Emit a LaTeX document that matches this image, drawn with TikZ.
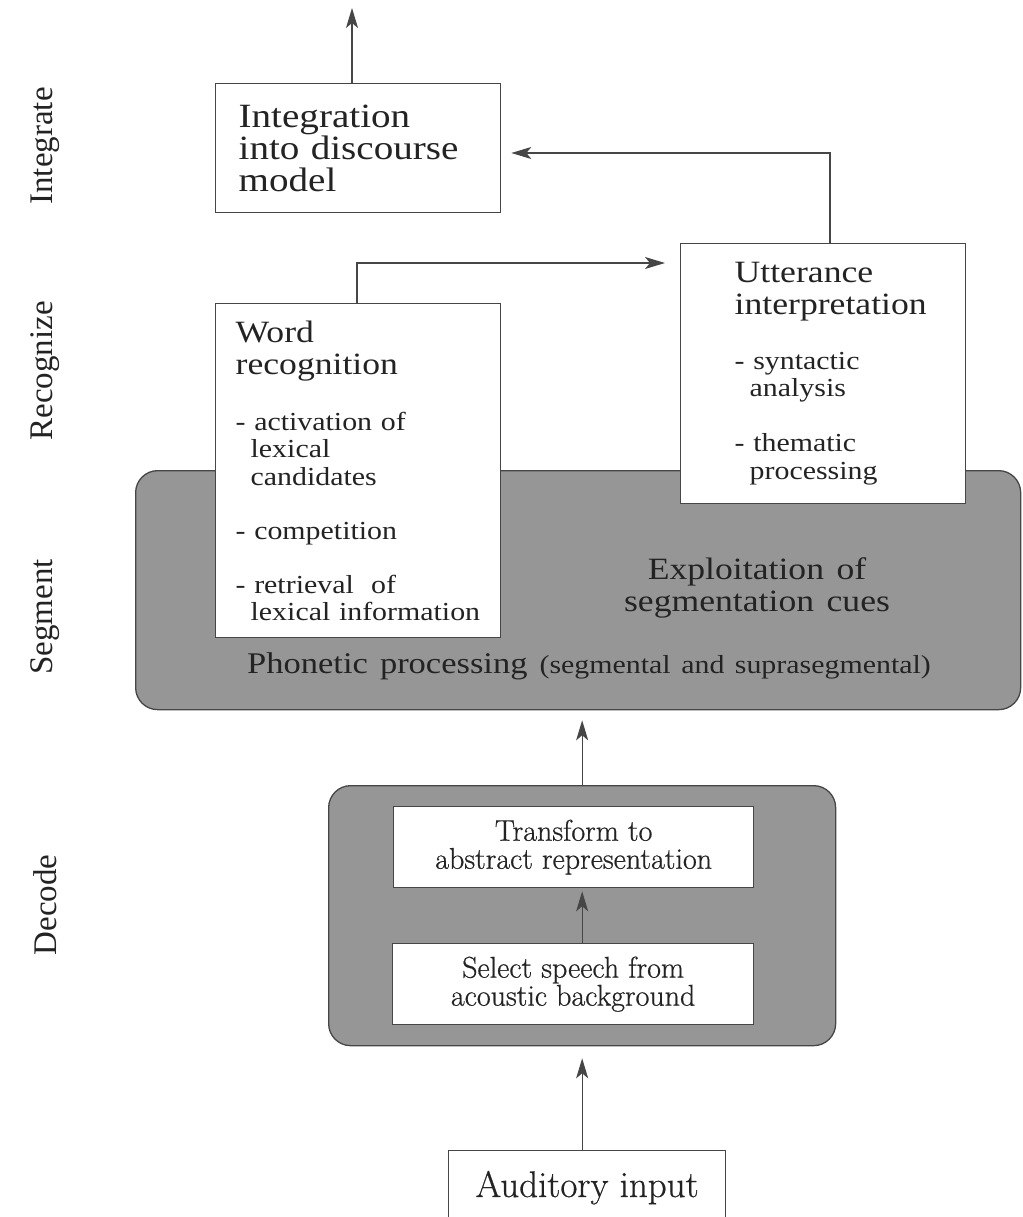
\documentclass[tikz,border=0pt]{standalone}
\usepackage{fontspec}
\setmainfont{Liberation Serif}[FakeStretch=1.15,WordSpace=1.4]
\newfontfamily\sidefont{Liberation Serif}
\newfontfamily\decfont{Latin Modern Roman}[FakeBold=0.6]
\usetikzlibrary{arrows.meta,calc}
\definecolor{lg}{RGB}{70,70,70}
\definecolor{ink}{RGB}{35,35,35}
\definecolor{segray}{RGB}{150,150,150}
\newcommand{\hd}{\fontsize{31}{32}\selectfont}
\newcommand{\lst}{\fontsize{26}{27.5}\selectfont}
\newcommand{\ind}{\hspace*{15pt}}
\tikzset{
    box/.style =    {rectangle,
                    fill=white,
                    draw=lg,
                    text=ink,
                    line width=1.3pt,
                    anchor=north west,
                    align=left,
                    font=\lst},
    panel/.style =  {rectangle,
                    rounded corners=22pt,
                    fill=segray,
                    draw=lg,
                    line width=1.3pt,
                    anchor=north west},
    decbox/.style = {rectangle,
                    fill=white,
                    draw=lg,
                    text=ink,
                    line width=1.3pt,
                    anchor=north west,
                    align=center,
                    font=\decfont\fontsize{30}{28}\selectfont},
    side/.style =   {rotate=90,
                    text=ink,
                    font=\sidefont\fontsize{33}{33}\selectfont},
    link/.style =   {line width=1.3pt,
                    draw=lg,
                    ->},
    >={Stealth[length=20pt,width=12pt,inset=5pt]}}
\begin{document}
\begin{tikzpicture}[x=1pt,y=-1pt]
    \clip (0,0) rectangle (1022,1217);
    % side labels
    \node[side] (lbint) at (45,146) {Integrate};
    \node[side] (lbrec) at (45,371) {Recognize};
    \node[side] (lbseg) at (45,617) {Segment};
    \node[side] (lbdec) at (45,905) {Decode};
    % segment panel and recognition boxes
    \node[panel, minimum width=885, minimum height=239] (seg) at (135,470) {};
    \node[text=ink, align=center, font=\hd] (cues) at (757,588) {Exploitation of\\segmentation cues};
    \node[text=ink, font=\fontsize{30}{32}\selectfont] (phon) at (589,666) {Phonetic processing {\fontsize{26}{28}\selectfont(segmental and suprasegmental)}};
    \node[box, inner xsep=20pt, text width=245, minimum height=334] (word) at (215,303)
        {\hd Word\\recognition\\[28.5pt]\lst - activation of\\\ind lexical\\\ind candidates\\[26.5pt]- competition\\[26.5pt]- retrieval\ \ of\\\ind lexical information};
    \node[box, inner xsep=54pt, text width=177, minimum height=260] (utter) at (680,243)
        {\hd Utterance\\interpretation\\[27pt]\lst - syntactic\\\ind analysis\\[27.5pt]- thematic\\\ind processing};
    \node[box, inner xsep=23pt, text width=239, minimum height=129, font=\fontsize{34}{32}\selectfont] (integ) at (215,83)
        {Integration\\into discourse\\model};
    % decode panel
    \node[panel, minimum width=507, minimum height=260] (decode) at (328,785) {};
    \node[decbox, minimum width=360, minimum height=81] (transf) at (393,806) {Transform to\\abstract representation};
    \node[decbox, minimum width=361, minimum height=81] (select) at (392,943) {Select speech from\\acoustic background};
    \node[decbox, minimum width=277, minimum height=74, font=\decfont\fontsize{37}{37}\selectfont] (audit) at (448,1150) {Auditory input};
    % connectors
    \coordinate (out) at (352,8);
    \coordinate (wu) at (357,263);
    \coordinate (ui) at (830,153);
    \draw[link] (out |- integ.north) -- (out);
    \draw[link, shorten >=15pt] (wu |- word.north) -- (wu) -- (wu -| utter.west);
    \draw[link, shorten >=10pt] (ui |- utter.north) -- (ui) -- (ui -| integ.east);
    \draw[link, shorten >=10pt] (decode.north) -- (decode.north |- seg.south);
    \draw[link, shorten >=3pt] (select.north -| decode.north) -- (transf.south -| decode.north);
    \draw[link, shorten >=12pt] (audit.north -| decode.south) -- (decode.south);
\end{tikzpicture}
\end{document}
